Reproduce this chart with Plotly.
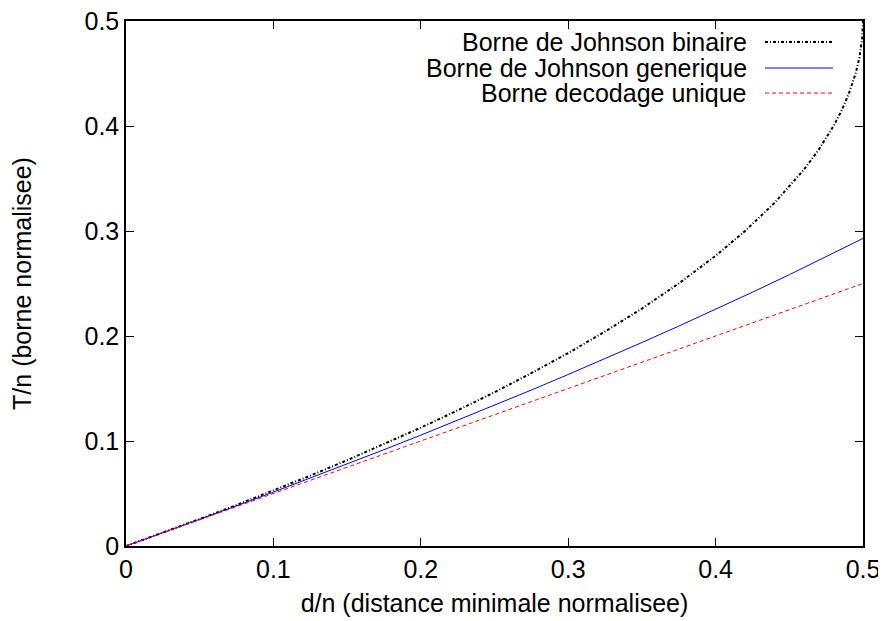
import plotly.graph_objects as go

# d/n sample points and curve values
x_bin = [0, 0.025, 0.05, 0.075, 0.1, 0.125, 0.15, 0.175, 0.2, 0.225, 0.25, 0.275, 0.3,
         0.325, 0.35, 0.375, 0.4, 0.42, 0.44, 0.46, 0.47, 0.48, 0.485, 0.49, 0.495,
         0.4975, 0.499, 0.4995, 0.5]
y_bin = [0, 0.012661, 0.025658, 0.039023, 0.052786, 0.066987, 0.081670, 0.096887, 0.112702,
         0.129190, 0.146447, 0.164590, 0.183772, 0.204196, 0.226139, 0.25, 0.276393, 0.3,
         0.326795, 0.358579, 0.377526, 0.4, 0.413397, 0.429289, 0.45, 0.464645, 0.477639,
         0.484189, 0.5]

x_gen = [0, 0.025, 0.05, 0.075, 0.1, 0.125, 0.15, 0.175, 0.2, 0.225, 0.25, 0.275, 0.3,
         0.325, 0.35, 0.375, 0.4, 0.425, 0.45, 0.475, 0.5]
y_gen = [0, 0.012579, 0.025321, 0.038231, 0.051317, 0.064586, 0.078046, 0.091705, 0.105573,
         0.119659, 0.133975, 0.148531, 0.163340, 0.178416, 0.193774, 0.209431, 0.225403,
         0.241712, 0.258380, 0.275431, 0.292893]

x_uni = [0, 0.5]
y_uni = [0, 0.25]

names = ["Borne de Johnson binaire", "Borne de Johnson generique", "Borne decodage unique"]
colors = ["black", "#0000ff", "#ff0000"]
dashes = ["3px,2px,1px,2px", "solid", "4px,3px"]
widths = [2, 1, 1]

tick_vals = [0, 0.1, 0.2, 0.3, 0.4, 0.5]
tick_text = ["0", "0.1", "0.2", "0.3", "0.4", "0.5"]

FONT = "Liberation Sans, Arial, Helvetica, sans-serif"
FS = 25

# page body has an 8px margin, so the figure is 8px smaller than the window
W, H = 878, 613
L, R, T, B = 118, 23, 13, 75
pw, ph = W - L - R, H - T - B

fig = go.Figure()
series = [(x_bin, y_bin), (x_gen, y_gen), (x_uni, y_uni)]
for (xs, ys), n, c, d, w in zip(series, names, colors, dashes, widths):
    fig.add_trace(go.Scatter(x=xs, y=ys, mode="lines", name=n,
                             line=dict(color=c, dash=d, width=w), showlegend=False))

# gnuplot-style legend: right-aligned text with sample line on the right
# target page pixel positions (window coordinates)
legend_rows = [42, 68, 93]
text_right = 749
sample_x0, sample_x1 = 765, 833


def px_x(px):
    return (px - 8 - L) / pw


def px_y(py):
    return 1 - (py - 8 - T) / ph


for n, c, d, w, ry in zip(names, colors, dashes, widths, legend_rows):
    ly = px_y(ry)
    fig.add_annotation(xref="paper", yref="paper", x=px_x(text_right), y=ly, text=n,
                       showarrow=False, xanchor="right", yanchor="middle",
                       font=dict(family=FONT, size=FS, color="black"))
    fig.add_shape(type="line", xref="paper", yref="paper", x0=px_x(sample_x0),
                  x1=px_x(sample_x1), y0=ly, y1=ly,
                  line=dict(color=c, dash=d, width=w))

axis_common = dict(
    range=[0, 0.5], tickvals=tick_vals, ticktext=tick_text, ticks="inside", ticklen=8,
    tickwidth=1, tickcolor="black", showline=True, linecolor="black", linewidth=1.5,
    mirror="allticks", showgrid=False, zeroline=False, automargin=False,
    ticklabeloverflow="allow",
    tickfont=dict(family=FONT, size=FS, color="black"),
)

fig.update_layout(
    width=W, height=H,
    margin=dict(l=L, r=R, t=T, b=B, autoexpand=False),
    paper_bgcolor="white", plot_bgcolor="white",
    font=dict(family=FONT, size=FS, color="black"),
    xaxis=dict(**axis_common,
               title=dict(text="d/n (distance minimale normalisee)", standoff=13,
                          font=dict(family=FONT, size=FS, color="black"))),
    yaxis=dict(**axis_common,
               title=dict(text="T/n (borne normalisee)", standoff=47,
                          font=dict(family=FONT, size=FS, color="black"))),
)

fig.write_html("out.html")
